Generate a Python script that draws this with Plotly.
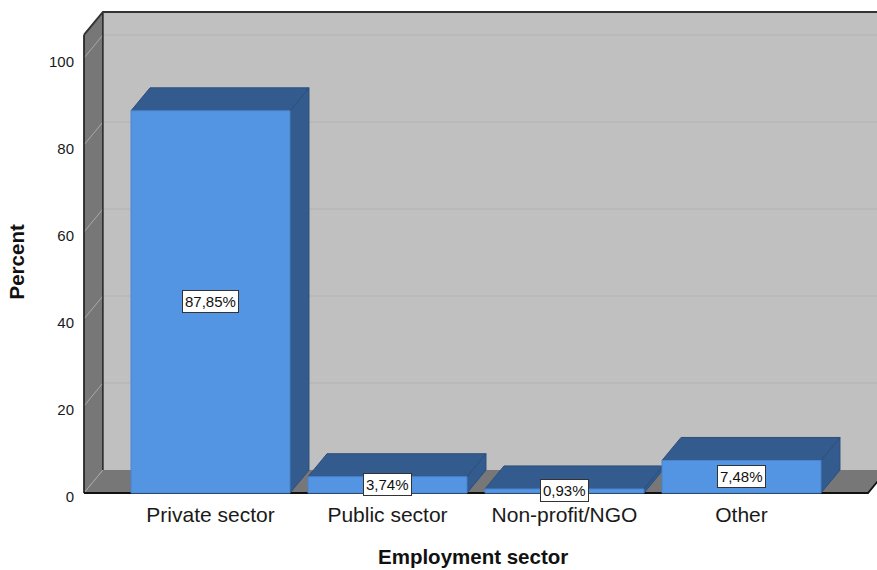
import plotly.graph_objects as go

# Employment sector distribution (percent of respondents)
categories = ["Private sector", "Public sector", "Non-profit/NGO", "Other"]
percents = [87.85, 3.74, 0.93, 7.48]
y_ticks = [0, 20, 40, 60, 80, 100]

# 3D box geometry in data units
BAR_HALF = 0.449          # half width of each bar's front face
DX, DY = 0.1073, 5.287    # depth offset of the back plane
FL, FR = -0.715, 3.7146   # front-left / front-right edge of the floor
WALL_TOP = 105.3          # top of the value wall (front plane)
X_MAX = 4.2

FRONT = "#5495e3"
DARK = "#335b8e"
WALL = "#777777"
BACK = "#c0c0c0"

fig = go.Figure()


def poly(xs, ys, fill, line_color=None, width=0):
    fig.add_trace(go.Scatter(
        x=xs + [xs[0]], y=ys + [ys[0]], mode="lines", fill="toself",
        fillcolor=fill, line=dict(color=line_color or fill, width=width),
        hoverinfo="skip", showlegend=False))


def seg(xs, ys, color, width):
    fig.add_trace(go.Scatter(
        x=xs, y=ys, mode="lines", line=dict(color=color, width=width),
        hoverinfo="skip", showlegend=False))


# back wall, floor, side wall
poly([FL + DX, X_MAX, X_MAX, FL + DX], [DY, DY, WALL_TOP + DY, WALL_TOP + DY], BACK)
poly([FL, FR, FR + DX, FL + DX], [0, 0, DY, DY], WALL)
poly([FL, FL, FL + DX, FL + DX], [0, WALL_TOP, WALL_TOP + DY, DY], WALL)

# grid lines on the back wall and the side wall
for v in y_ticks:
    if v > 0:
        seg([FL + DX, X_MAX], [v + DY, v + DY], "#b2b2b2", 1.2)
    seg([FL, FL + DX], [v, v + DY], "#a9a9a9", 1)

# frame edges
seg([FL + DX, FL + DX], [DY, WALL_TOP + DY], "#111111", 1.3)
seg([FL, FL], [0, WALL_TOP], "#111111", 1.5)
seg([FL, FL + DX, X_MAX], [WALL_TOP, WALL_TOP + DY, WALL_TOP + DY], "#333333", 2)
seg([FL, FR, FR + DX], [0, 0, DY], "#111111", 1.8)

# 3D bars, drawn left to right
for i, v in enumerate(percents):
    l, r = i - BAR_HALF, i + BAR_HALF
    poly([r, r + DX, r + DX, r], [0, DY, v + DY, v], DARK, "#2c4f7d", 1)
    poly([l, r, r + DX, l + DX], [v, v, v + DY, v + DY], DARK, "#2c4f7d", 1)
    poly([l, r, r, l], [0, 0, v, v], FRONT, "#4a86cf", 1)

# value labels at half bar height
for i, v in enumerate(percents):
    fig.add_annotation(
        x=i, y=v / 2, xref="x", yref="y",
        text=f"{v:.2f}%".replace(".", ","), showarrow=False,
        font=dict(family="Liberation Sans, Arial", size=15, color="#111111"),
        bgcolor="white", bordercolor="#333333", borderwidth=1, borderpad=2)

# axis titles
fig.add_annotation(
    x=-0.0818, y=0.4825, xref="paper", yref="paper", text="<b>Percent</b>",
    textangle=-90, showarrow=False, xanchor="center", yanchor="middle",
    font=dict(family="Liberation Sans, Arial", size=20.5, color="#111111"))
fig.add_annotation(
    x=0.4912, y=-0.1235, xref="paper", yref="paper",
    text="<b>Employment sector</b>", showarrow=False,
    xanchor="center", yanchor="middle",
    font=dict(family="Liberation Sans, Arial", size=20.5, color="#111111"))

fig.update_layout(
    width=877, height=570,
    margin=dict(l=82, r=0, t=10, b=74),
    paper_bgcolor="white", plot_bgcolor="white",
    font=dict(family="Liberation Sans, Arial", color="#1a1a1a"),
    xaxis=dict(
        range=[-0.726, 3.7655], tickvals=list(range(len(categories))),
        ticktext=categories, showgrid=False, zeroline=False, showline=False,
        ticks="", tickfont=dict(size=21), ticklabelstandoff=4, fixedrange=True),
    yaxis=dict(
        range=[-0.69, 111.03], tickvals=y_ticks, ticktext=[str(t) for t in y_ticks],
        showgrid=False, zeroline=False, showline=False, ticks="",
        tickfont=dict(size=15), ticklabelstandoff=7, ticklabelshift=4,
        fixedrange=True),
)

fig.write_html("out.html")
